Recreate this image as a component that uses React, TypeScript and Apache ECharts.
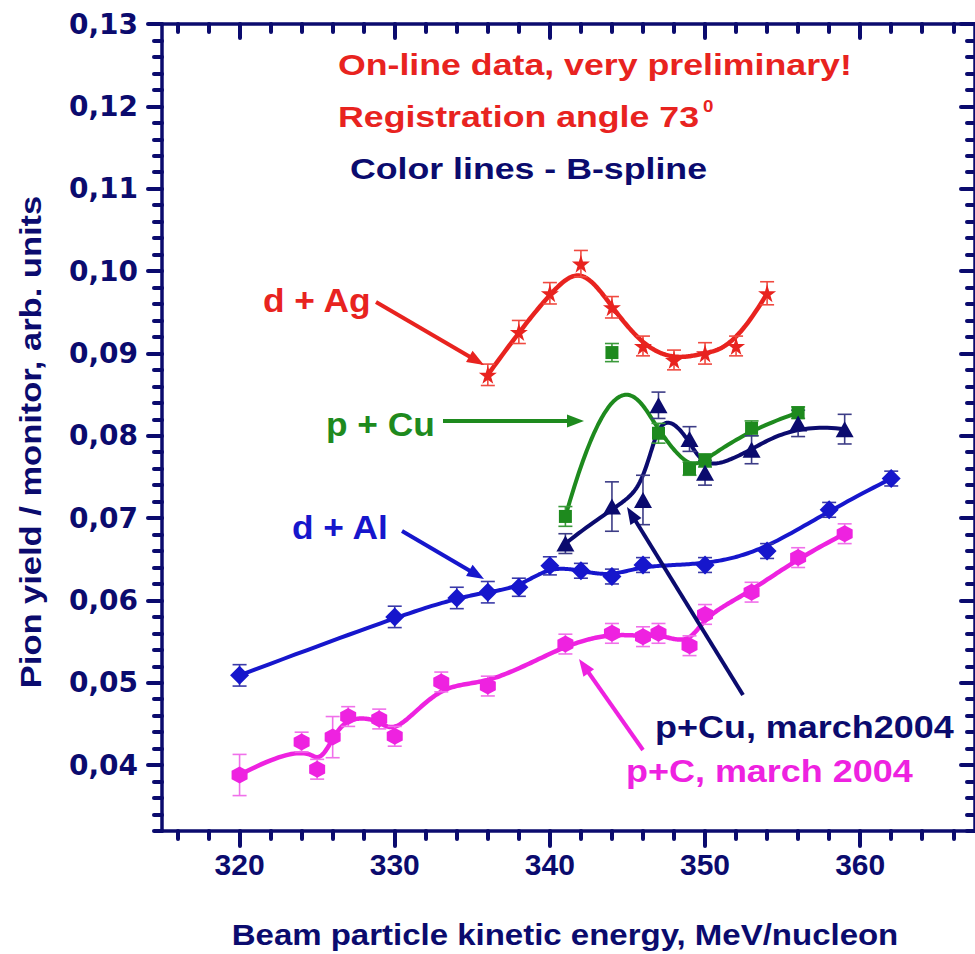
import React, { useEffect, useRef } from 'react';
import * as echarts from 'echarts';

// ---- axes ----
const xMin = 315;
const xMax = 367.4;
const yMin = 0.032;
const yMax = 0.13;
const xMajorTicks = [320, 330, 340, 350, 360];
const yMajorTicks = [0.04, 0.05, 0.06, 0.07, 0.08, 0.09, 0.1, 0.11, 0.12, 0.13];

// ---- d + Ag (red stars) ----
const agX = [336, 338, 340, 342, 344, 346, 348, 350, 352, 354];
const agY = [0.0874, 0.0926, 0.0973, 0.1009, 0.0956, 0.0909, 0.0892, 0.09, 0.0909, 0.0973];
const agErr = [0.0013, 0.0014, 0.0013, 0.0016, 0.0013, 0.0012, 0.0012, 0.0013, 0.0012, 0.0014];

// ---- p + Cu (green squares) ----
const cuX = [341, 344, 347, 349, 350, 353, 356];
const cuY = [0.0702, 0.0901, 0.0803, 0.076, 0.077, 0.0809, 0.0828];
const cuErr = [0.0012, 0.0011, 0.0012, 0.0008, 0.0008, 0.0009, 0.0007];

// ---- p+Cu, march2004 (navy triangles) ----
const cu04X = [341, 344, 346, 347, 349, 350, 353, 356, 359];
const cu04Y = [0.0669, 0.0714, 0.0722, 0.0837, 0.0796, 0.0755, 0.0783, 0.0815, 0.0808];
const cu04Err = [0.0012, 0.003, 0.003, 0.0016, 0.0015, 0.0015, 0.0017, 0.0016, 0.0018];

// ---- d + Al (blue diamonds) ----
const alX = [320, 330, 334, 336, 338, 340, 342, 344, 346, 350, 354, 358, 362];
const alY = [0.0509, 0.058, 0.0603, 0.061, 0.0616, 0.0642, 0.0636, 0.0629, 0.0643, 0.0643, 0.066, 0.071, 0.0748];
const alErr = [0.0013, 0.0013, 0.0013, 0.0013, 0.0011, 0.0011, 0.0009, 0.0009, 0.0009, 0.0009, 0.0009, 0.0009, 0.0009];

// ---- p+C, march 2004 (magenta) ----
const cX = [320, 324, 325, 326, 327, 329, 330, 333, 336, 341, 344, 346, 347, 349, 350, 353, 356, 359];
const cY = [0.0388, 0.0428, 0.0395, 0.0434, 0.0459, 0.0456, 0.0435, 0.0501, 0.0496, 0.0547, 0.056, 0.0556, 0.056, 0.0545, 0.0583, 0.061, 0.0652, 0.0681];
const cErr = [0.0025, 0.0012, 0.0012, 0.0025, 0.0012, 0.0012, 0.0012, 0.0012, 0.0012, 0.0012, 0.0012, 0.0012, 0.0012, 0.0012, 0.0012, 0.0012, 0.0012, 0.0012];

const NAVY = '#0b0b6e';
const RED = '#e8231f';
const GREEN = '#1e8a1e';
const BLUE = '#1616cc';
const MAGENTA = '#ee22e0';
const FONT = '"Liberation Sans", Arial, sans-serif';
const WIDE_FONT = '"DejaVu Sans", "Liberation Sans", sans-serif';

const STAR = 'path://M50,0 L61,35 L98,35 L68,57 L79,91 L50,70 L21,91 L32,57 L2,35 L39,35 Z';
const HEX = 'path://M0,-100 L87,-50 L87,50 L0,100 L-87,50 L-87,-50 Z';

function sampleBSpline(P: number[][], seg: number): number[][] {
  const n = P.length;
  const p = 3;
  if (n < 4) return P;
  const t: number[] = [];
  for (let i = 0; i < 4; i++) t.push(0);
  for (let i = 1; i <= n - 4; i++) t.push(i);
  for (let i = 0; i < 4; i++) t.push(n - 3);
  const uMax = n - 3;
  const out: number[][] = [];
  const N = uMax * seg;
  for (let s = 0; s <= N; s++) {
    const u = s / seg;
    let k = p;
    while (k < n - 1 && u >= t[k + 1]) k++;
    const d: number[][] = [];
    for (let j = 0; j <= p; j++) d.push([P[j + k - p][0], P[j + k - p][1]]);
    for (let r = 1; r <= p; r++) {
      for (let j = p; j >= r; j--) {
        const den = t[j + 1 + k - r] - t[j + k - p];
        const a = den === 0 ? 0 : (u - t[j + k - p]) / den;
        d[j] = [(1 - a) * d[j - 1][0] + a * d[j][0], (1 - a) * d[j - 1][1] + a * d[j][1]];
      }
    }
    out.push(d[p]);
  }
  return out;
}

function curveSeries(xs: number[], ys: number[], color: string, width: number) {
  return {
    type: 'custom',
    xAxisIndex: 0,
    yAxisIndex: 0,
    silent: true,
    z: 2,
    clip: false,
    data: [[xs[0], ys[0]]],
    encode: { x: 0, y: 1 },
    renderItem: (_params: any, api: any) => {
      const ctrl = xs.map((x, i) => api.coord([x, ys[i]]));
      const pts = sampleBSpline(ctrl, 30);
      return {
        type: 'polyline',
        shape: { points: pts },
        style: { stroke: color, lineWidth: width, fill: null, lineJoin: 'round', lineCap: 'round' },
      };
    },
  };
}

function errSeries(xs: number[], ys: number[], es: number[], color: string) {
  return {
    type: 'custom',
    xAxisIndex: 0,
    yAxisIndex: 0,
    silent: true,
    z: 3,
    data: xs.map((x, i) => [x, ys[i], es[i]]),
    encode: { x: 0, y: 1 },
    renderItem: (_params: any, api: any) => {
      const x = api.value(0);
      const y = api.value(1);
      const e = api.value(2);
      const hi = api.coord([x, y + e]);
      const lo = api.coord([x, y - e]);
      const w = 7;
      const st = { stroke: color, lineWidth: 1.6 };
      return {
        type: 'group',
        children: [
          { type: 'line', shape: { x1: hi[0], y1: hi[1], x2: lo[0], y2: lo[1] }, style: st },
          { type: 'line', shape: { x1: hi[0] - w, y1: hi[1], x2: hi[0] + w, y2: hi[1] }, style: st },
          { type: 'line', shape: { x1: lo[0] - w, y1: lo[1], x2: lo[0] + w, y2: lo[1] }, style: st },
        ],
      };
    },
  };
}

function markSeries(xs: number[], ys: number[], symbol: string, size: number | number[], color: string) {
  return {
    type: 'scatter',
    xAxisIndex: 0,
    yAxisIndex: 0,
    z: 4,
    silent: true,
    symbol,
    symbolSize: size,
    itemStyle: { color, opacity: 1 },
    data: xs.map((x, i) => [x, ys[i]]),
  };
}

function arrow(x1: number, y1: number, x2: number, y2: number, color: string) {
  const ang = Math.atan2(y2 - y1, x2 - x1);
  const L = 17;
  const W = 6.5;
  const bx = x2 - L * Math.cos(ang);
  const by = y2 - L * Math.sin(ang);
  const px = -Math.sin(ang) * W;
  const py = Math.cos(ang) * W;
  return [
    {
      type: 'line',
      shape: { x1, y1, x2: bx + 2 * Math.cos(ang), y2: by + 2 * Math.sin(ang) },
      style: { stroke: color, lineWidth: 4 },
      z: 10,
    },
    {
      type: 'polygon',
      shape: { points: [[x2, y2], [bx + px, by + py], [bx - px, by - py]] },
      style: { fill: color },
      z: 10,
    },
  ];
}

function txt(text: string, x: number, y: number, color: string, size: number, align = 'left', sx = 1, extra: any = {}) {
  return {
    type: 'text',
    x,
    y,
    z: 20,
    scaleX: sx,
    ...extra,
    style: {
      text,
      fill: color,
      font: `bold ${size}px ${FONT}`,
      align,
      verticalAlign: 'middle',
      textAlign: align,
      textVerticalAlign: 'middle',
    },
  };
}

const App: React.FC = () => {
  const ref = useRef<HTMLDivElement>(null);

  useEffect(() => {
    if (!ref.current) return;
    const chart = echarts.init(ref.current, undefined, { renderer: 'svg' });

    const xMinor: number[] = [];
    for (let v = 316; v <= xMax; v += 2) if (v % 10 !== 0) xMinor.push(v);
    const yMinor: number[] = [];
    for (let i = 32; i <= 130; i += 2) if (i % 10 !== 0) yMinor.push(i / 1000);

    const grid = { left: 162, top: 24, width: 817, height: 807, containLabel: false };
    const lineStyle = { color: NAVY, width: 3.5 };
    const tickStyle = { color: NAVY, width: 4, cap: 'round' };

    const mkX = (gridIndex: number, position: string, ticks: number[], len: number, inside: boolean, labels: boolean) => ({
      type: 'value',
      gridIndex,
      position,
      min: xMin,
      max: xMax,
      axisLine: { show: gridIndex === 0, onZero: false, lineStyle },
      axisTick: { show: true, inside, length: len, customValues: ticks, lineStyle: tickStyle },
      axisLabel: labels
        ? { show: true, customValues: xMajorTicks, margin: 18, color: NAVY, fontSize: 30, fontWeight: 'bold', fontFamily: FONT }
        : { show: false },
      splitLine: { show: false },
    });
    const mkY = (gridIndex: number, position: string, ticks: number[], len: number, inside: boolean, labels: boolean) => ({
      type: 'value',
      gridIndex,
      position,
      min: yMin,
      max: yMax,
      axisLine: { show: gridIndex === 0, onZero: false, lineStyle },
      axisTick: { show: true, inside, length: len, customValues: ticks, lineStyle: tickStyle },
      axisLabel: labels
        ? {
            show: true,
            customValues: yMajorTicks,
            margin: 24,
            formatter: (v: number) => v.toFixed(2).replace('.', ','),
            color: NAVY,
            fontSize: 28,
            fontWeight: 'bold',
            fontFamily: WIDE_FONT,
          }
        : { show: false },
      splitLine: { show: false },
    });

    const graphic: any[] = [
      txt('On-line data, very preliminary!', 338, 65, RED, 30, 'left', 1.19),
      txt('Registration angle 73', 338, 117, RED, 30, 'left', 1.19),
      txt('0', 703, 106, RED, 17, 'left', 1.1),
      txt('Color lines - B-spline', 350, 169, NAVY, 30, 'left', 1.19),
      txt('d + Ag', 263, 300, RED, 33, 'left', 1.07),
      txt('p + Cu', 326, 424, GREEN, 33, 'left', 1.07),
      txt('d + Al', 292, 527, BLUE, 33, 'left', 1.07),
      txt('p+Cu, march2004', 655, 727, NAVY, 31, 'left', 1.16),
      txt('p+C, march 2004', 626, 771, MAGENTA, 31, 'left', 1.16),
      txt('Pion yield / monitor, arb. units', 31, 442, NAVY, 30, 'center', 1.15, { rotation: Math.PI / 2 }),
      txt('Beam particle kinetic energy, MeV/nucleon', 565, 935, NAVY, 30, 'center', 1.1),
      ...arrow(376, 302, 484, 365, RED),
      ...arrow(443, 421, 584, 421, GREEN),
      ...arrow(402, 531, 484, 579, BLUE),
      ...arrow(743, 695, 627, 507, NAVY),
      ...arrow(643, 750, 579, 659, MAGENTA),
    ];

    chart.setOption({
      animation: false,
      backgroundColor: '#ffffff',
      grid: [grid, { ...grid }],
      xAxis: [
        mkX(0, 'bottom', xMajorTicks, 15, false, true),
        mkX(0, 'top', xMajorTicks, 14, true, false),
        mkX(1, 'bottom', xMinor, 8, false, false),
        mkX(1, 'top', xMinor, 8, true, false),
      ],
      yAxis: [
        mkY(0, 'left', yMajorTicks, 14, false, true),
        mkY(0, 'right', yMajorTicks, 14, true, false),
        mkY(1, 'left', yMinor, 8, false, false),
        mkY(1, 'right', yMinor, 8, true, false),
      ],
      series: [
        curveSeries(alX, alY, BLUE, 4),
        curveSeries(cX, cY, MAGENTA, 4.5),
        curveSeries(cuX, cuY, GREEN, 4),
        curveSeries(cu04X, cu04Y, NAVY, 4),
        curveSeries(agX, agY, RED, 4.5),
        errSeries(alX, alY, alErr, '#3a3aa8'),
        errSeries(cX, cY, cErr, '#f070ea'),
        errSeries(cuX, cuY, cuErr, '#3a9a3a'),
        errSeries(cu04X, cu04Y, cu04Err, '#3c3c86'),
        errSeries(agX, agY, agErr, '#f04a40'),
        markSeries(alX, alY, 'diamond', [19, 19], BLUE),
        markSeries(cX, cY, HEX, [16, 17], MAGENTA),
        markSeries(cuX, cuY, 'rect', 13, GREEN),
        markSeries(cu04X, cu04Y, 'triangle', [18, 16], NAVY),
        markSeries(agX, agY, STAR, 18, RED),
      ],
      graphic,
    });

    return () => chart.dispose();
  }, []);

  return (
    <div
      ref={ref}
      style={{ position: 'absolute', left: 0, top: 0, width: 975, height: 954, background: '#fff' }}
    />
  );
};

export default App;
